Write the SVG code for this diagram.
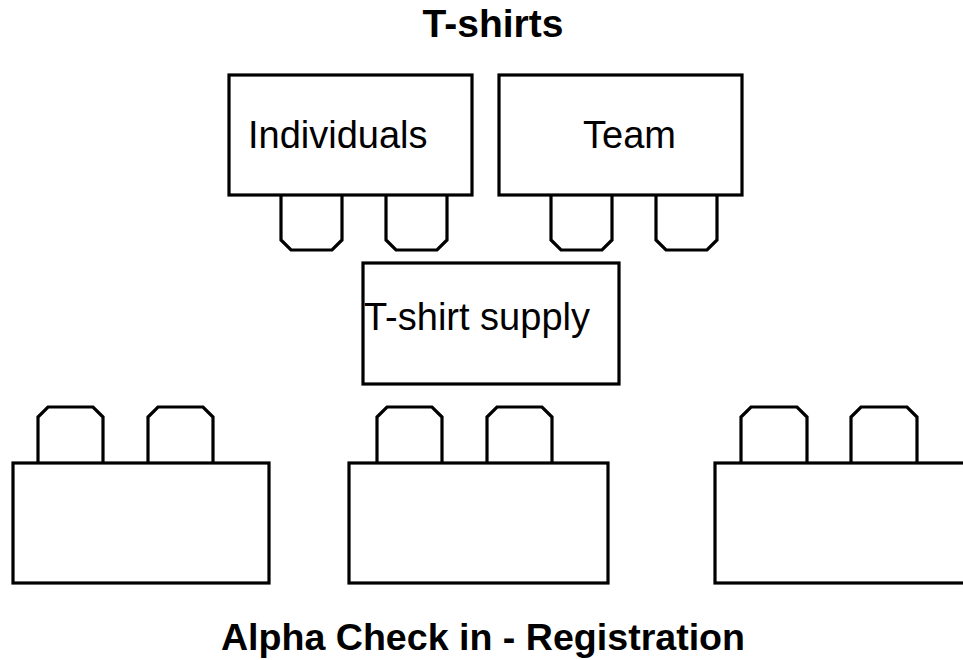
<svg xmlns="http://www.w3.org/2000/svg" width="963" height="660" viewBox="0 0 963 660">
  <style>
    .box { fill: #ffffff; stroke: #000000; stroke-width: 3.2; }
    .leg { fill: #ffffff; stroke: #000000; stroke-width: 3.2; stroke-linejoin: miter; }
    .label { font-family: "Liberation Sans", Arial, sans-serif; font-size: 38px; fill: #000000; }
    .title { font-family: "Liberation Sans", Arial, sans-serif; font-weight: bold; fill: #000000; text-anchor: middle; }
  </style>
  <rect width="963" height="660" fill="#ffffff"/>

  <text class="title" x="493" y="37" font-size="39">T-shirts</text>

  <!-- Table: Individuals (legs hang below) -->
  <g id="individuals">
    <path class="leg" d="M281,195 V240 L291,250 H332 L342,240 V195"/>
    <path class="leg" d="M386,195 V240 L396,250 H437 L447,240 V195"/>
    <rect class="box" x="229" y="75" width="243" height="120"/>
    <text class="label" x="248" y="148">Individuals</text>
  </g>

  <!-- Table: Team -->
  <g id="team">
    <path class="leg" d="M551,195 V240 L561,250 H602 L612,240 V195"/>
    <path class="leg" d="M656,195 V240 L666,250 H707 L717,240 V195"/>
    <rect class="box" x="499" y="75" width="243" height="120"/>
    <text class="label" x="583" y="148">Team</text>
  </g>

  <!-- Supply table -->
  <g id="tshirt-supply">
    <rect class="box" x="363" y="263" width="256" height="121"/>
    <text class="label" x="364" y="330">T-shirt supply</text>
  </g>

  <!-- Check-in tables (bumps on top) -->
  <g id="checkin-left">
    <path class="leg" d="M38,463 V417 L48,407 H93 L103,417 V463"/>
    <path class="leg" d="M148,463 V417 L158,407 H203 L213,417 V463"/>
    <rect class="box" x="13" y="463" width="256" height="120"/>
  </g>

  <g id="checkin-middle">
    <path class="leg" d="M377,463 V417 L387,407 H432 L442,417 V463"/>
    <path class="leg" d="M487,463 V417 L497,407 H542 L552,417 V463"/>
    <rect class="box" x="349" y="463" width="259" height="120"/>
  </g>

  <g id="checkin-right">
    <path class="leg" d="M741,463 V417 L751,407 H797 L807,417 V463"/>
    <path class="leg" d="M851,463 V417 L861,407 H907 L917,417 V463"/>
    <rect class="box" x="715" y="463" width="260" height="120"/>
  </g>

  <text class="title" x="483" y="650" font-size="37.6">Alpha Check in - Registration</text>
</svg>
